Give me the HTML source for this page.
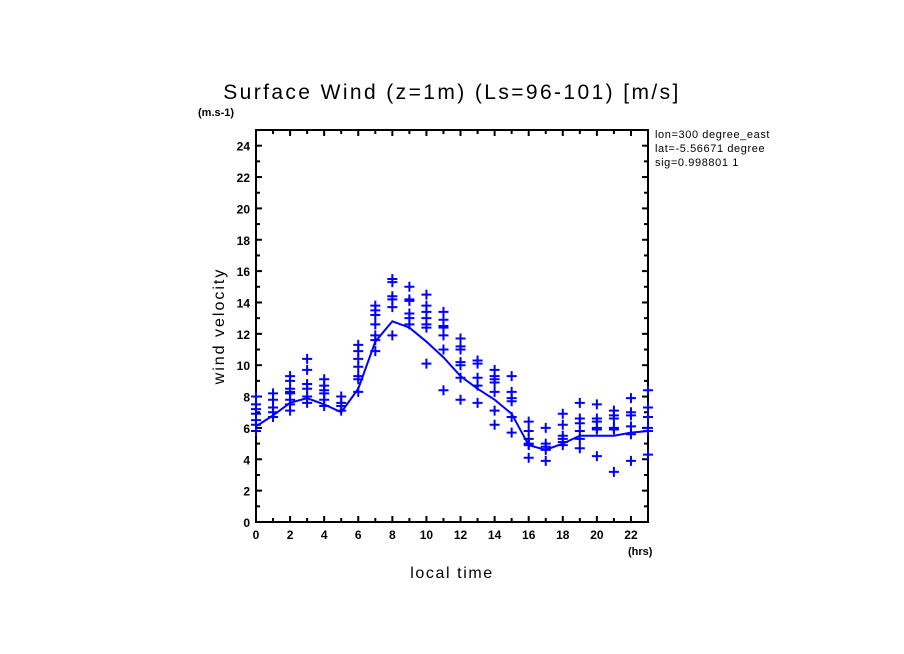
<!DOCTYPE html>
<html><head><meta charset="utf-8"><style>
body{margin:0;background:#fff}
svg{display:block;font-family:"Liberation Sans",sans-serif}
.tk{font-size:12px;font-weight:bold}
</style></head><body>
<svg id="c" width="904" height="654" viewBox="0 0 904 654">
<text x="452" y="99" text-anchor="middle" font-size="21" letter-spacing="2.4">Surface Wind (z=1m) (Ls=96-101) [m/s]</text>
<text x="198" y="116" font-size="11" font-weight="bold">(m.s-1)</text>
<text x="655" y="138" font-size="11" letter-spacing="0.6">lon=300 degree_east</text>
<text x="655" y="152" font-size="11" letter-spacing="0.6">lat=-5.56671 degree</text>
<text x="655" y="166" font-size="11" letter-spacing="0.6">sig=0.998801 1</text>
<rect x="780" y="126" width="60" height="46" fill="#fff"/>
<text x="628" y="555" font-size="11" font-weight="bold">(hrs)</text>
<text x="452" y="578" text-anchor="middle" font-size="16" letter-spacing="1.6">local time</text>
<text x="0" y="0" transform="translate(224,326) rotate(-90)" text-anchor="middle" font-size="16" letter-spacing="2">wind velocity</text>
<g id="axes"></g><g id="marks"></g>
</svg>
<script>
const hours=[0,1,2,3,4,5,6,7,8,9,10,11,12,13,14,15,16,17,18,19,20,21,22,23];
const meanWind=[6.1,6.8,7.6,7.9,7.5,7.0,8.5,11.5,12.8,12.4,11.5,10.5,9.3,8.5,7.8,6.9,4.9,4.6,5.0,5.5,5.5,5.5,5.7,5.8];
const samples=[
[8.0,7.5,7.2,6.9,6.5,6.2,5.8],
[8.2,7.8,7.3,7.0,6.7],
[9.3,9.0,8.5,8.3,8.2,7.8,7.5,7.1],
[10.4,9.7,8.8,8.5,8.0,7.6],
[9.1,8.7,8.4,8.2,7.8,7.4],
[8.0,7.6,7.4,7.1],
[11.3,10.9,10.4,9.9,9.3,9.1,8.3],
[13.8,13.5,13.2,12.6,11.9,11.6,10.9],
[15.5,15.3,14.4,14.2,13.7,11.9],
[15.0,14.2,14.1,13.3,13.0,12.6],
[14.5,13.8,13.4,13.0,12.6,12.4,10.1],
[13.4,12.9,12.5,12.4,11.9,11.0,8.4],
[11.7,11.2,11.0,10.2,10.0,9.2,7.8],
[10.3,10.1,9.2,8.7,7.6],
[9.7,9.3,9.1,8.9,8.3,7.1,6.2],
[9.3,8.3,7.9,7.7,6.7,5.7],
[6.4,5.8,5.3,5.0,4.9,4.1],
[6.0,5.0,4.8,4.6,3.9],
[6.9,6.2,5.5,5.3,5.1,4.9],
[7.6,6.6,6.3,5.8,5.3,4.7],
[7.5,6.6,6.4,6.0,5.9,4.2],
[7.1,6.8,6.6,6.0,5.9,3.2],
[7.9,7.0,6.8,6.1,5.6,3.9],
[8.4,7.3,6.7,6.0,5.8,4.3]];
const yTicks=[0,2,4,6,8,10,12,14,16,18,20,22,24];
const xTicks=[0,2,4,6,8,10,12,14,16,18,20,22];
const NS="http://www.w3.org/2000/svg";
const X0=256,X1=648,Y0=522,Y1=130;
const xs=v=>X0+(X1-X0)*v/23;
const ys=v=>Y0-(Y0-Y1)*v/25;
function mk(t,a,p){const e=document.createElementNS(NS,t);for(const k in a)e.setAttribute(k,a[k]);p.appendChild(e);return e;}
const ax=document.getElementById('axes'),mg=document.getElementById('marks');
const fr=mk('rect',{x:X0,y:Y1,width:X1-X0,height:Y0-Y1,fill:'none',stroke:'#000','stroke-width':2},ax);


for(let v=0;v<=25;v++){const y=ys(v),L=v%2?4:6;
mk('line',{x1:X0,x2:X0+L,y1:y,y2:y,stroke:'#000','stroke-width':2},ax);
mk('line',{x1:X1,x2:X1-L,y1:y,y2:y,stroke:'#000','stroke-width':2},ax);}
for(let v=0;v<=23;v++){const x=xs(v),L=v%2?4:6;
mk('line',{x1:x,x2:x,y1:Y0,y2:Y0-L,stroke:'#000','stroke-width':2},ax);
mk('line',{x1:x,x2:x,y1:Y1,y2:Y1+L,stroke:'#000','stroke-width':2},ax);}
yTicks.forEach(v=>{const t=mk('text',{x:X0-6,y:ys(v)+5,'text-anchor':'end',class:'tk'},ax);t.textContent=v;

});
xTicks.forEach(v=>{const t=mk('text',{x:xs(v),y:Y0+17,'text-anchor':'middle',class:'tk'},ax);t.textContent=v;

});
samples.forEach((arr,i)=>arr.forEach(v=>{const x=xs(hours[i]),y=ys(v);
const g=mk('path',{d:`M${x-5} ${y}H${x+5}M${x} ${y-5}V${y+5}`,stroke:'#0000ff','stroke-width':2,fill:'none'},mg);

}));
const ln=mk('polyline',{points:hours.map((h,i)=>xs(h)+','+ys(meanWind[i])).join(' '),fill:'none',stroke:'#0000ff','stroke-width':2},mg);


</script>
</body></html>
